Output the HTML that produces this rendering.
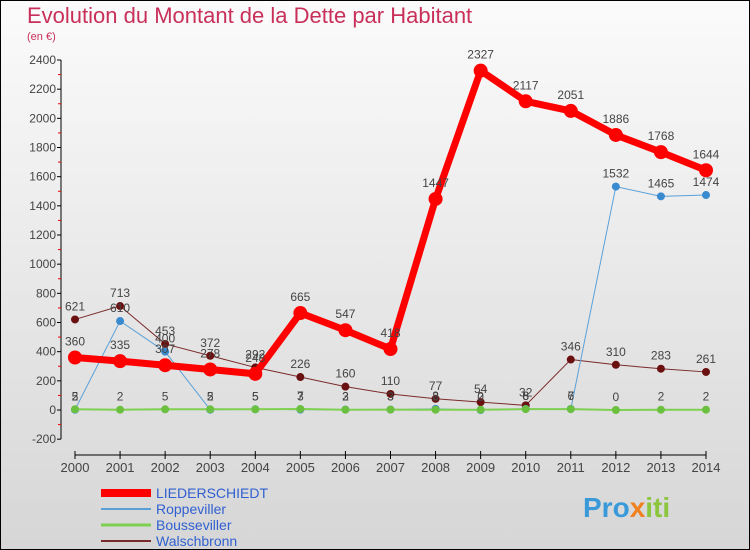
<!DOCTYPE html>
<html><head><meta charset="utf-8"><style>
body{margin:0}
#wrap{width:748px;height:548px;border:1px solid #000;background:linear-gradient(#fbfbfb,#d6d6d6);position:relative;font-family:"Liberation Sans",sans-serif}
</style></head><body>
<div id="wrap">
<svg id="svg" width="748" height="548" style="position:absolute;left:0;top:0">
<text x="26" y="22" font-size="22" font-weight="300" fill="#c8305a">Evolution du Montant de la Dette par Habitant</text>
<text x="26" y="39" font-size="11" fill="#c8305a">(en €)</text>
<g id="axes"></g><g id="series"></g><g id="legend"></g>
<text x="582" y="516" font-size="28" font-weight="bold" fill="#3a9ad9">Pro<tspan fill="#f08020">x</tspan><tspan fill="#8cc63f">iti</tspan></text>
</svg>
</div>
<script>
const years=[2000,2001,2002,2003,2004,2005,2006,2007,2008,2009,2010,2011,2012,2013,2014];
const yTicks=[-200,0,200,400,600,800,1000,1200,1400,1600,1800,2000,2200,2400];
const liederschiedt=[360,335,307,278,248,665,547,418,1447,2327,2117,2051,1886,1768,1644];
const roppeviller=[2,610,400,2,5,3,3,3,8,0,8,7,1532,1465,1474];
const bousseviller=[5,2,5,5,5,7,2,3,2,2,6,6,0,2,2];
const walschbronn=[621,713,453,372,292,226,160,110,77,54,32,346,310,283,261];
const NS="http://www.w3.org/2000/svg";
const xS=i=>74+i*(631/14);
const yS=v=>409-v*(350/2400);
function mk(t,a,p){const e=document.createElementNS(NS,t);for(const k in a)e.setAttribute(k,a[k]);p.appendChild(e);return e;}
const axes=document.getElementById('axes');
const ax=mk('line',{x1:60,y1:yS(2400),x2:60,y2:yS(-200),stroke:'#000'},axes);

yTicks.forEach(v=>{
 mk('line',{x1:56,y1:yS(v),x2:60,y2:yS(v),stroke:'#000'},axes);
 if(v<2400) mk('line',{x1:57,y1:yS(v+100),x2:60,y2:yS(v+100),stroke:'#e00'},axes);
 const t=mk('text',{x:55,y:yS(v)+4,'font-size':12,fill:'#444','text-anchor':'end'},axes);
 t.textContent=v;
 
 
});
const xa=mk('line',{x1:74,y1:454,x2:705,y2:454,stroke:'#000'},axes);

years.forEach((y,i)=>{
 mk('line',{x1:xS(i),y1:450,x2:xS(i),y2:458,stroke:'#000'},axes);
 const t=mk('text',{x:xS(i),y:471,'font-size':13,fill:'#444','text-anchor':'middle'},axes);
 t.textContent=y;
 
 
});
const ser=document.getElementById('series');
const defs=[
 {name:'Walschbronn',d:walschbronn,c:'#7a2a2a',w:1,r:4,f:'#6a1010'},
 {name:'Roppeviller',d:roppeviller,c:'#5aa0d8',w:1,r:4,f:'#3a8ad0'},
 {name:'Bousseviller',d:bousseviller,c:'#7ed050',w:2,r:4,f:'#6cc040'},
 {name:'LIEDERSCHIEDT',d:liederschiedt,c:'#f00',w:7,r:7,f:'#f00'}
];
defs.forEach(s=>{
 const g=mk('g',{},ser);
 
 
 mk('polyline',{points:s.d.map((v,i)=>xS(i)+','+yS(v)).join(' '),fill:'none',stroke:s.c,'stroke-width':s.w,'stroke-linejoin':'round'},g);
 s.d.forEach((v,i)=>{
  const c=mk('circle',{cx:xS(i),cy:yS(v),r:s.r,fill:s.f},g);
  
  
  const t=mk('text',{x:xS(i),y:yS(v)-(s.r+5),'font-size':12,fill:'#444','text-anchor':'middle'},g);
  t.textContent=v;
  
  
 });
});
const leg=document.getElementById('legend');
[defs[3],defs[1],defs[2],defs[0]].forEach((s,k)=>{
 const y=492+k*16;
 const g=mk('g',{},leg);
 
 
 mk('line',{x1:100,y1:y,x2:150,y2:y,stroke:s.c,'stroke-width':s.w===7?8:s.w+1},g);
 const t=mk('text',{x:155,y:y+5,'font-size':14,fill:'#3060d0'},g);
 t.textContent=s.name;
});
</script>
</body></html>
